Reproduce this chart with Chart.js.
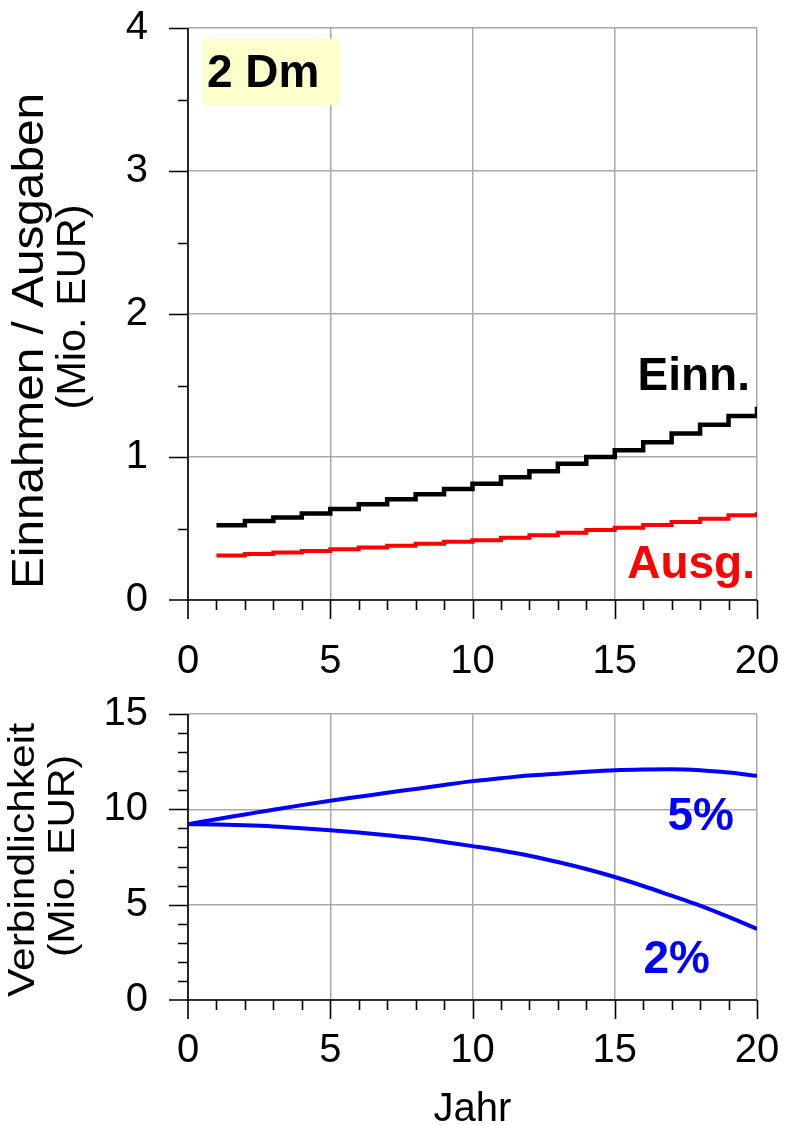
<!DOCTYPE html>
<html>
<head>
<meta charset="utf-8">
<script src="https://cdn.jsdelivr.net/npm/chart.js@4.4.1/dist/chart.umd.min.js"></script>
<style>
  body { margin: 0; background: #fff; }
  #wrap { position: relative; width: 788px; height: 1125px; }
  .box { position: absolute; left: 0; width: 788px; }
</style>
</head>
<body>
<div id="wrap">
  <div class="box" style="top:0;height:700px"><canvas id="oben"></canvas></div>
  <div class="box" style="top:690px;height:435px"><canvas id="unten"></canvas></div>
</div>
<script>
// Einnahmen / Ausgaben je Jahr (Mio. EUR), Stufen ab Jahr 1
const jahreStufen = [1, 2, 3, 4, 5, 6, 7, 8, 9, 10, 11, 12, 13, 14, 15, 16, 17, 18, 19, 20];
const einnahmen = [0.523, 0.553, 0.577, 0.605, 0.637, 0.670, 0.705, 0.740, 0.777, 0.813,
                   0.859, 0.901, 0.953, 1.000, 1.047, 1.104, 1.164, 1.225, 1.286, 1.351];
const ausgaben = [0.312, 0.322, 0.332, 0.343, 0.355, 0.367, 0.379, 0.393, 0.407, 0.418,
                  0.435, 0.452, 0.471, 0.489, 0.506, 0.525, 0.546, 0.569, 0.593, 0.616];

// Verbindlichkeit (Mio. EUR), Jahr 0..20
const jahre = [0, 1, 2, 3, 4, 5, 6, 7, 8, 9, 10, 11, 12, 13, 14, 15, 16, 17, 18, 19, 20];
const verb5 = [9.22, 9.48, 9.73, 9.98, 10.22, 10.45, 10.66, 10.87, 11.07, 11.28, 11.48,
               11.63, 11.77, 11.87, 11.97, 12.05, 12.09, 12.10, 12.05, 11.93, 11.76];
const verb2 = [9.22, 9.20, 9.16, 9.10, 9.01, 8.90, 8.78, 8.64, 8.49, 8.29, 8.07,
               7.84, 7.57, 7.24, 6.87, 6.45, 5.98, 5.47, 4.95, 4.36, 3.73];

const xTicks = [0, 5, 10, 15, 20];

const FONT = '"Liberation Sans", Arial, sans-serif';
Chart.defaults.font.family = FONT;
Chart.defaults.color = '#000';

const pts = (xs, ys) => xs.map((x, i) => ({ x: x, y: ys[i] }));

// schwarze Achsen mit Haupt- und Nebenstrichen
const achsen = {
  id: 'achsen',
  afterDraw(chart, args, o) {
    const { ctx, chartArea: a, scales: { x, y } } = chart;
    const major = (v, step) => Math.abs(v / step - Math.round(v / step)) < 1e-6;
    ctx.save();
    ctx.strokeStyle = '#000';
    ctx.lineWidth = 1.6;
    ctx.beginPath();
    ctx.moveTo(a.left, a.top);
    ctx.lineTo(a.left, a.bottom + 19);
    ctx.moveTo(a.left - 19, a.bottom);
    ctx.lineTo(a.right, a.bottom);
    for (let v = o.yMinor; v <= y.max + 1e-9; v += o.yMinor) {
      const py = Math.round(y.getPixelForValue(v)) + 0.5;
      ctx.moveTo(a.left, py);
      ctx.lineTo(a.left - (major(v, o.yMajor) ? 19 : 10), py);
    }
    for (let v = o.xMinor; v <= x.max + 1e-9; v += o.xMinor) {
      const px = Math.round(x.getPixelForValue(v)) + 0.5;
      ctx.moveTo(px, a.bottom);
      ctx.lineTo(px, a.bottom + (major(v, o.xMajor) ? 19 : 10));
    }
    ctx.stroke();
    ctx.restore();
  }
};

// Beschriftungen im Diagramm
const texte = {
  id: 'texte',
  afterDatasetsDraw(chart, args, o) {
    const ctx = chart.ctx;
    ctx.save();
    (o.items || []).forEach(t => {
      if (t.bg) {
        ctx.fillStyle = t.bg;
        ctx.fillRect(t.bx, t.by, t.bw, t.bh);
      }
      ctx.font = 'bold ' + t.size + 'px ' + FONT;
      ctx.fillStyle = t.color;
      ctx.textAlign = t.align || 'left';
      ctx.textBaseline = 'alphabetic';
      ctx.fillText(t.text, t.x, t.y);
    });
    ctx.restore();
  }
};

// senkrechte Achsentitel, jede Zeile auf eine feste Länge gezogen
const titel = {
  id: 'titel',
  afterDraw(chart, args, o) {
    const ctx = chart.ctx;
    (o.items || []).forEach(t => {
      ctx.save();
      ctx.font = t.size + 'px ' + FONT;
      const sx = t.len / ctx.measureText(t.text).width;
      ctx.translate(t.x, t.y);
      ctx.rotate(-Math.PI / 2);
      ctx.scale(sx, 1);
      ctx.textAlign = 'center';
      ctx.textBaseline = 'alphabetic';
      ctx.fillStyle = '#000';
      ctx.fillText(t.text, 0, 0);
      ctx.restore();
    });
  }
};

// Gitter grau; die (unsichtbare) Strichlänge schiebt nur die Zahlen vom Rand weg
const gitter = len => ({ color: '#a9a9a9', lineWidth: 1.5, drawTicks: true,
                         tickLength: len, tickColor: 'rgba(0,0,0,0)' });

new Chart(document.getElementById('oben'), {
  type: 'line',
  data: {
    datasets: [
      { data: pts(jahreStufen, einnahmen), borderColor: '#000', borderWidth: 4.5, stepped: true },
      { data: pts(jahreStufen, ausgaben), borderColor: '#ff0000', borderWidth: 4, stepped: true }
    ]
  },
  options: {
    animation: false,
    responsive: true,
    maintainAspectRatio: false,
    layout: { padding: { top: 28, right: 31, left: 0, bottom: 0 } },
    elements: { point: { radius: 0 } },
    plugins: {
      legend: { display: false },
      tooltip: { enabled: false },
      achsen: { xMinor: 1, xMajor: 5, yMinor: 0.5, yMajor: 1 },
      titel: {
        items: [
          { text: 'Einnahmen / Ausgaben', size: 45, len: 496, x: 43, y: 341 },
          { text: '(Mio. EUR)', size: 41, len: 205, x: 85, y: 307 }
        ]
      },
      texte: {
        items: [
          { text: '2 Dm', x: 207, y: 87, size: 46, color: '#000',
            bg: '#ffffcc', bx: 203, by: 39, bw: 137, bh: 66 },
          { text: 'Einn.', x: 750, y: 390, size: 46, color: '#000', align: 'right' },
          { text: 'Ausg.', x: 755, y: 578, size: 46, color: '#ff0000', align: 'right' }
        ]
      }
    },
    scales: {
      x: {
        type: 'linear', min: 0, max: 20,
        afterBuildTicks: s => { s.ticks = xTicks.map(v => ({ value: v })); },
        afterFit: s => { s.height = 100; },
        grid: gitter(38),
        border: { display: false },
        ticks: { font: { size: 40 }, padding: 0, maxRotation: 0 }
      },
      y: {
        min: 0, max: 4,
        afterFit: s => { s.width = 188; },
        grid: gitter(40),
        border: { display: false },
        ticks: { stepSize: 1, font: { size: 40 }, padding: 0 }
      }
    }
  },
  plugins: [achsen, texte, titel]
});

new Chart(document.getElementById('unten'), {
  type: 'line',
  data: {
    datasets: [
      { data: pts(jahre, verb5), borderColor: '#0000ff', borderWidth: 4, tension: 0.4, cubicInterpolationMode: 'monotone' },
      { data: pts(jahre, verb2), borderColor: '#0000ff', borderWidth: 4, tension: 0.4, cubicInterpolationMode: 'monotone' }
    ]
  },
  options: {
    animation: false,
    responsive: true,
    maintainAspectRatio: false,
    layout: { padding: { top: 24, right: 31, left: 0, bottom: 0 } },
    elements: { point: { radius: 0 } },
    plugins: {
      legend: { display: false },
      tooltip: { enabled: false },
      achsen: { xMinor: 1, xMajor: 5, yMinor: 1, yMajor: 5 },
      titel: {
        items: [
          { text: 'Verbindlichkeit', size: 37, len: 274, x: 34, y: 170 },
          { text: '(Mio. EUR)', size: 37, len: 202, x: 74, y: 166 }
        ]
      },
      texte: {
        items: [
          { text: '5%', x: 734, y: 140, size: 46, color: '#0000ff', align: 'right' },
          { text: '2%', x: 710, y: 283, size: 46, color: '#0000ff', align: 'right' }
        ]
      }
    },
    scales: {
      x: {
        type: 'linear', min: 0, max: 20,
        afterBuildTicks: s => { s.ticks = xTicks.map(v => ({ value: v })); },
        afterFit: s => { s.height = 125; },
        grid: gitter(27),
        border: { display: false },
        ticks: { font: { size: 40 }, padding: 0, maxRotation: 0 },
        title: {
          display: true, text: 'Jahr',
          font: { size: 40, lineHeight: 1.0 },
          padding: { top: 0, bottom: -5 }
        }
      },
      y: {
        min: 0, max: 15,
        afterFit: s => { s.width = 188; },
        grid: gitter(40),
        border: { display: false },
        ticks: { stepSize: 5, font: { size: 40 }, padding: 0 }
      }
    }
  },
  plugins: [achsen, texte, titel]
});
</script>
</body>
</html>
